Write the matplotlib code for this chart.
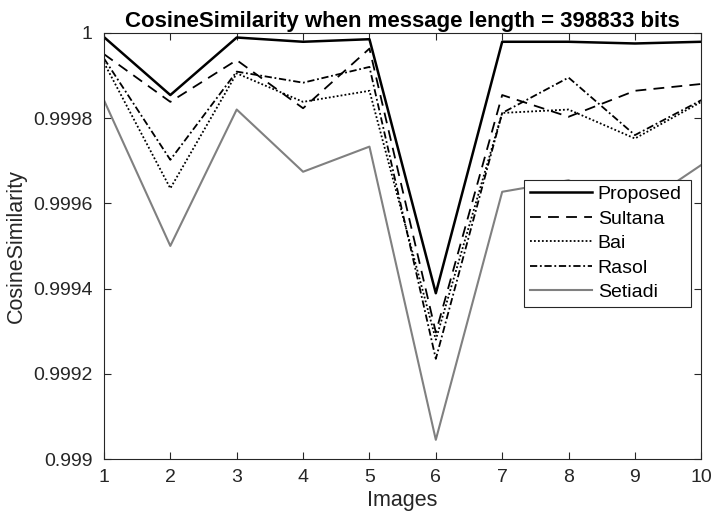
import matplotlib
matplotlib.use("Agg")
import matplotlib.pyplot as plt
from matplotlib.ticker import FixedLocator, FixedFormatter

plt.rcParams['font.family'] = ['Liberation Sans', 'DejaVu Sans']

images = [1, 2, 3, 4, 5, 6, 7, 8, 9, 10]
proposed = [0.99999, 0.999854, 0.999989, 0.999979, 0.999985, 0.999389, 0.999979, 0.999979, 0.999975, 0.999979]
sultana = [0.99995, 0.999838, 0.999936, 0.999823, 0.999963, 0.999297, 0.999854, 0.999803, 0.999864, 0.99988]
bai = [0.99993, 0.999635, 0.999905, 0.999838, 0.999864, 0.99928, 0.999812, 0.99982, 0.999752, 0.999838]
rasol = [0.99994, 0.999702, 0.999909, 0.999883, 0.99992, 0.999235, 0.999812, 0.999895, 0.99976, 0.999842]
setiadi = [0.999842, 0.9995, 0.99982, 0.999674, 0.999733, 0.999045, 0.999627, 0.999654, 0.999585, 0.99969]

ytick_vals = [0.999, 0.9992, 0.9994, 0.9996, 0.9998, 1.0]
ytick_labels = ["0.999", "0.9992", "0.9994", "0.9996", "0.9998", "1"]

fig = plt.figure(figsize=(7.12, 5.21), dpi=100)
ax = fig.add_axes([0.146, 0.119, 0.839, 0.818])

ax.plot(images, proposed, color='black', lw=1.8, ls='-', label='Proposed')
ax.plot(images, sultana, color='black', lw=1.3, ls=(0, (6, 4)), label='Sultana')
ax.plot(images, bai, color='black', lw=1.3, ls=(0, (1, 1.2)), label='Bai')
ax.plot(images, rasol, color='black', lw=1.3, ls=(0, (4, 1.5, 1, 1.5)), label='Rasol')
ax.plot(images, setiadi, color='#808080', lw=1.5, ls='-', label='Setiadi')

ax.set_xlim(1, 10)
ax.set_ylim(0.999, 1.0)
ax.set_xticks(images)
ax.yaxis.set_major_locator(FixedLocator(ytick_vals))
ax.yaxis.set_major_formatter(FixedFormatter(ytick_labels))

axis_color = '#262626'
for side in ax.spines.values():
    side.set_color(axis_color)
    side.set_linewidth(0.8)
ax.tick_params(direction='in', top=True, right=True, length=5, width=0.8,
               colors=axis_color, labelsize=14)
ax.tick_params(axis='x', pad=7)
ax.tick_params(axis='y', pad=8)
for lbl in ax.get_xticklabels() + ax.get_yticklabels():
    lbl.set_color(axis_color)

ax.set_xlabel('Images', fontsize=15.5, color=axis_color, labelpad=3)
ax.set_ylabel('CosineSimilarity', fontsize=15.5, color=axis_color, labelpad=5)
ax.set_title('CosineSimilarity when message length = 398833 bits',
             fontsize=16, fontweight='bold', pad=4)

leg = ax.legend(loc='upper left', bbox_to_anchor=(0.703, 0.355, 0.28, 0.3),
                mode='expand', fontsize=14,
                frameon=True, fancybox=False, framealpha=1, edgecolor=axis_color,
                handlelength=3.2, handletextpad=0.3, labelspacing=0.35,
                borderpad=0.3, borderaxespad=0)
leg.get_frame().set_linewidth(0.8)

fig.savefig('out.png', dpi=100)
